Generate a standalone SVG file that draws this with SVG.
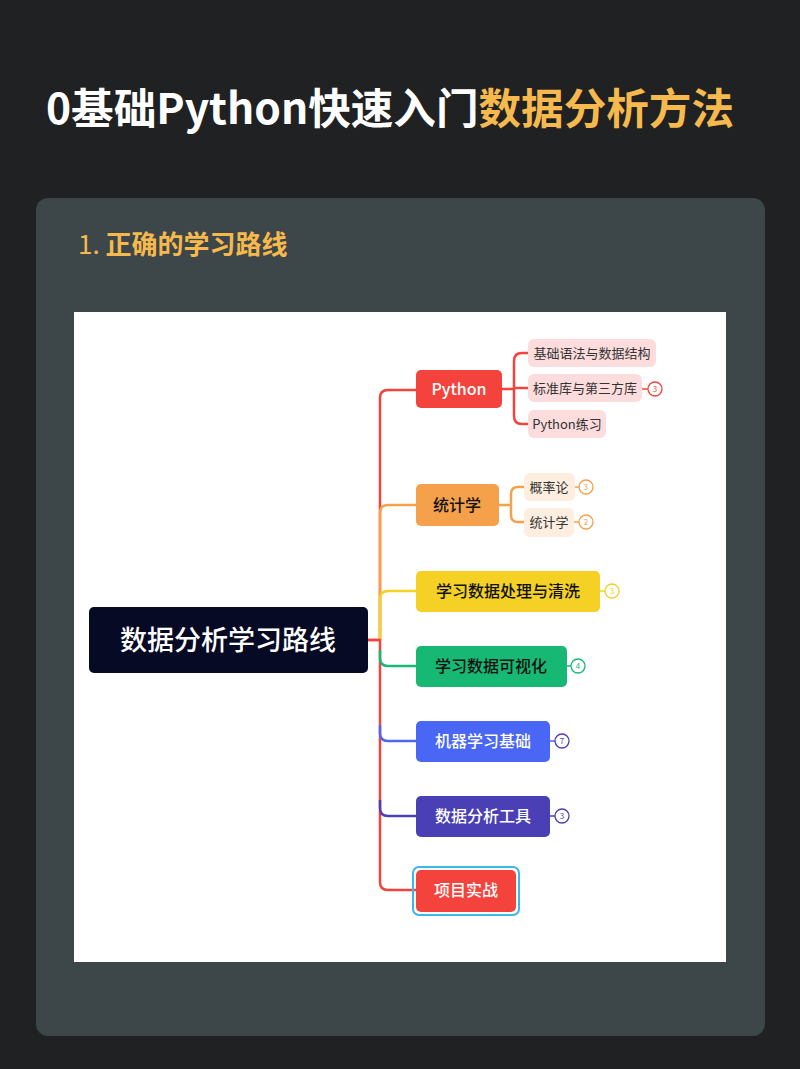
<svg xmlns="http://www.w3.org/2000/svg" width="800" height="1069" viewBox="0 0 800 1069">
<style>
text{font-family:"Noto Sans CJK SC","Noto Sans",sans-serif}
.c{fill:none;stroke-width:2.5;stroke-linejoin:round}
.b{fill:#fff;stroke-width:1.3}
.bt{font-size:8px;text-anchor:middle}
.st{font-size:13px;fill:#333;text-anchor:middle}
.mt{font-size:16px;text-anchor:middle;font-weight:500}
</style>
<rect width="800" height="1069" fill="#1f2123"/>
<text x="46" y="124" font-size="42" font-weight="bold" fill="#fff" textLength="688" lengthAdjust="spacingAndGlyphs">0基础Python快速入门<tspan fill="#f6b94e">数据分析方法</tspan></text>
<rect x="36" y="198" width="729" height="838" rx="12" fill="#3d4648"/>
<text x="78" y="254" font-size="26" fill="#f6b94e">1. <tspan font-weight="bold">正确的学习路线</tspan></text>
<rect x="74" y="312" width="652" height="650" fill="#fff"/>
<g id="connectors">
<path class="c" stroke="#f4433c" d="M368 640H380V398Q380 390 388 390H416"/>
<path class="c" stroke="#f5a04a" d="M380 640V513Q380 505 388 505H416"/>
<path class="c" stroke="#f5d126" d="M380 640V599Q380 591 388 591H416"/>
<path class="c" stroke="#f4433c" d="M368 640H380V882Q380 890 388 890H416"/>
<path class="c" stroke="#4a3fb5" d="M380 800V808Q380 816 388 816H416"/>
<path class="c" stroke="#4a66f5" d="M380 725V733Q380 741 388 741H416"/>
<path class="c" stroke="#16b874" d="M380 650V658Q380 666 388 666H416"/>
<path class="c" stroke="#f4433c" stroke-width="2" d="M502 389H514M528 353H522Q514 353 514 361V416Q514 424 522 424H528M514 388H528"/>
<path class="c" stroke="#f5a04a" stroke-width="2" d="M499 505H511M524 487H518Q511 487 511 494V515Q511 522 518 522H524"/>
<path fill="none" stroke="#f4433c" stroke-width="1.5" d="M642 389H648"/>
<path fill="none" stroke="#f5a04a" stroke-width="1.5" d="M575 487H579M574 522H579"/>
<path fill="none" stroke="#f5d126" stroke-width="1.5" d="M600 591H605"/>
<path fill="none" stroke="#16b874" stroke-width="1.5" d="M567 666H571"/>
<path fill="none" stroke="#4a66f5" stroke-width="1.5" d="M550 741H555"/>
<path fill="none" stroke="#4a3fb5" stroke-width="1.5" d="M550 816H555"/>
</g>
<g id="root"><rect x="89" y="607" width="279" height="66" rx="5" fill="#070a24"/><text x="228" y="650" font-size="27" font-weight="500" fill="#fff" text-anchor="middle">数据分析学习路线</text></g>
<g id="python"><rect x="416" y="370" width="86" height="38" rx="5" fill="#f4433c"/><text class="mt" x="459" y="395" fill="#fff">Python</text></g>
<g id="p1"><rect x="528" y="339" width="128" height="28" rx="6" fill="#fcdcdc"/><text class="st" x="592" y="358">基础语法与数据结构</text></g>
<g id="p2"><rect x="528" y="374" width="114" height="28" rx="6" fill="#fcdcdc"/><text class="st" x="585" y="393">标准库与第三方库</text><circle class="b" cx="655" cy="389" r="7" stroke="#f4433c"/><text class="bt" x="655" y="392" fill="#f4433c">3</text></g>
<g id="p3"><rect x="528" y="410" width="78" height="28" rx="6" fill="#fcdcdc"/><text class="st" x="567" y="429">Python练习</text></g>
<g id="stat"><rect x="416" y="484" width="83" height="42" rx="5" fill="#f5a04a"/><text class="mt" x="457" y="511" fill="#111">统计学</text></g>
<g id="s1"><rect x="524" y="473" width="51" height="28" rx="6" fill="#fdeee0"/><text class="st" x="549" y="492">概率论</text><circle class="b" cx="586" cy="487" r="7" stroke="#f5a04a"/><text class="bt" x="586" y="490" fill="#f5a04a">3</text></g>
<g id="s2"><rect x="524" y="508" width="50" height="29" rx="6" fill="#fdeee0"/><text class="st" x="549" y="527">统计学</text><circle class="b" cx="586" cy="522" r="7" stroke="#f5a04a"/><text class="bt" x="586" y="525" fill="#f5a04a">2</text></g>
<g id="clean"><rect x="416" y="571" width="184" height="41" rx="5" fill="#f5d126"/><text class="mt" x="508" y="597" fill="#111">学习数据处理与清洗</text><circle class="b" cx="612" cy="591" r="7" stroke="#f5d126"/><text class="bt" x="612" y="594" fill="#f5d126">3</text></g>
<g id="viz"><rect x="416" y="646" width="151" height="41" rx="5" fill="#16b874"/><text class="mt" x="491" y="672" fill="#111">学习数据可视化</text><circle class="b" cx="578" cy="666" r="7" stroke="#16b874"/><text class="bt" x="578" y="669" fill="#16b874">4</text></g>
<g id="ml"><rect x="416" y="721" width="134" height="41" rx="5" fill="#4a66f5"/><text class="mt" x="483" y="747" fill="#fff">机器学习基础</text><circle class="b" cx="562" cy="741" r="7" stroke="#4a3fb5"/><text class="bt" x="562" y="744" fill="#4a3fb5">7</text></g>
<g id="tools"><rect x="416" y="796" width="134" height="41" rx="5" fill="#4a3fb5"/><text class="mt" x="483" y="822" fill="#fff">数据分析工具</text><circle class="b" cx="562" cy="816" r="7" stroke="#4a3fb5"/><text class="bt" x="562" y="819" fill="#4a3fb5">3</text></g>
<g id="proj"><rect x="413" y="867" width="106" height="48" rx="6" fill="none" stroke="#3bb8e8" stroke-width="2"/><rect x="416" y="870" width="100" height="42" rx="5" fill="#f4433c"/><text class="mt" x="466" y="896" fill="#fff">项目实战</text></g>
</svg>
